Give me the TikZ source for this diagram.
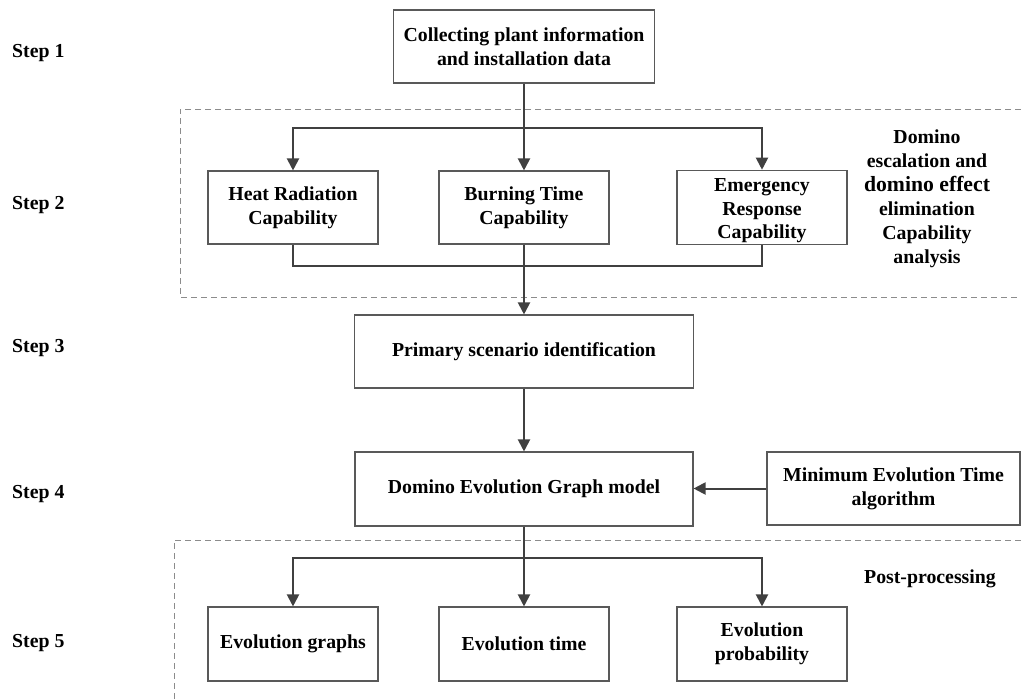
\documentclass[tikz,border=0pt]{standalone}
\usepackage{fontspec}
\setmainfont{Liberation Serif}
\usetikzlibrary{arrows.meta}
\definecolor{wiregray}{HTML}{404040}
\definecolor{boxgray}{HTML}{595959}
\definecolor{dashgray}{HTML}{8C8C8C}
\begin{document}
\begin{tikzpicture}[x=1pt,y=-1pt,
  font=\bfseries\fontsize{19.8}{24}\selectfont,
  box/.style={draw=boxgray, line width=1.1pt, fill=white, minimum width=170pt,
    minimum height=73pt, align=center, inner sep=2pt},
  wire/.style={draw=wiregray, line width=2pt},
  arr/.style={wire, -{Triangle[width=12pt,length=12pt]}},
  frame/.style={draw=dashgray, line width=1pt, dash pattern=on 6pt off 4pt},
  steplbl/.style={anchor=base west, inner sep=0pt}]
\useasboundingbox (0,0) rectangle (1021,699);

% dashed group frames
\draw[frame] (1021,109) -| (180,297) -- (1021,297);
\draw[frame] (1021,540) -| (174,699);

% step labels
\node[steplbl] (st1) at (12,57) {Step 1};
\node[steplbl] (st2) at (12,209) {Step 2};
\node[steplbl] (st3) at (12,352) {Step 3};
\node[steplbl] (st4) at (12,498) {Step 4};
\node[steplbl] (st5) at (12,647) {Step 5};

% boxes
\node[box, minimum width=261pt] (top) at (524,46.5)
  {Collecting plant information\\and installation data};
\node[box] (heat) at (293,207.5) {Heat Radiation\\Capability};
\node[box] (burn) at (524,207.5) {Burning Time\\Capability};
\node[box, font=\bfseries\fontsize{19.8}{23.5}\selectfont] (emer) at (762,207.5)
  {\raisebox{-3pt}[\height][\depth]{\begin{tabular}{@{}c@{}}Emergency\\Response\\Capability\end{tabular}}};
\node[box, minimum width=339pt] (prim) at (524,351.5) {Primary scenario identification};
\node[box, minimum width=338pt, minimum height=74pt] (dom) at (524,489)
  {Domino Evolution Graph model};
\node[box, minimum width=253pt] (minalg) at (893.5,488.5)
  {Minimum Evolution Time\\algorithm};
\node[box, minimum height=74pt] (eg) at (293,644) {Evolution graphs};
\node[box, minimum height=74pt] (et) at (524,644) {Evolution time};
\node[box, minimum height=74pt] (ep) at (762,644) {Evolution\\probability};

% group captions
\node[align=center, inner sep=0pt] (cap1) at (927,199)
  {Domino\\escalation and\\{\fontsize{21.7}{24}\selectfont domino effect}\\elimination\\Capability\\analysis};
\node[inner sep=0pt] (cap2) at (930,579) {Post-processing};

% connectors: step 1 to step 2
\coordinate (s1) at (524,128);
\draw[wire] (top.south) -- (s1);
\draw[arr] (s1) -| (heat.north);
\draw[arr] (s1) -| (emer.north);
\draw[arr] (s1) -- (burn.north);

% step 2 merge to step 3
\coordinate (m1) at (524,266);
\draw[wire] (heat.south) |- (m1);
\draw[wire] (emer.south) |- (m1);
\draw[arr] (burn.south) -- (prim.north);

% step 3 to step 4
\draw[arr] (prim.south) -- (dom.north);
\draw[arr] (minalg.west) -- (minalg.west -| dom.east);

% step 4 to step 5
\coordinate (s2) at (524,558);
\draw[wire] (dom.south) -- (s2);
\draw[arr] (s2) -| (eg.north);
\draw[arr] (s2) -| (ep.north);
\draw[arr] (s2) -- (et.north);
\end{tikzpicture}
\end{document}
